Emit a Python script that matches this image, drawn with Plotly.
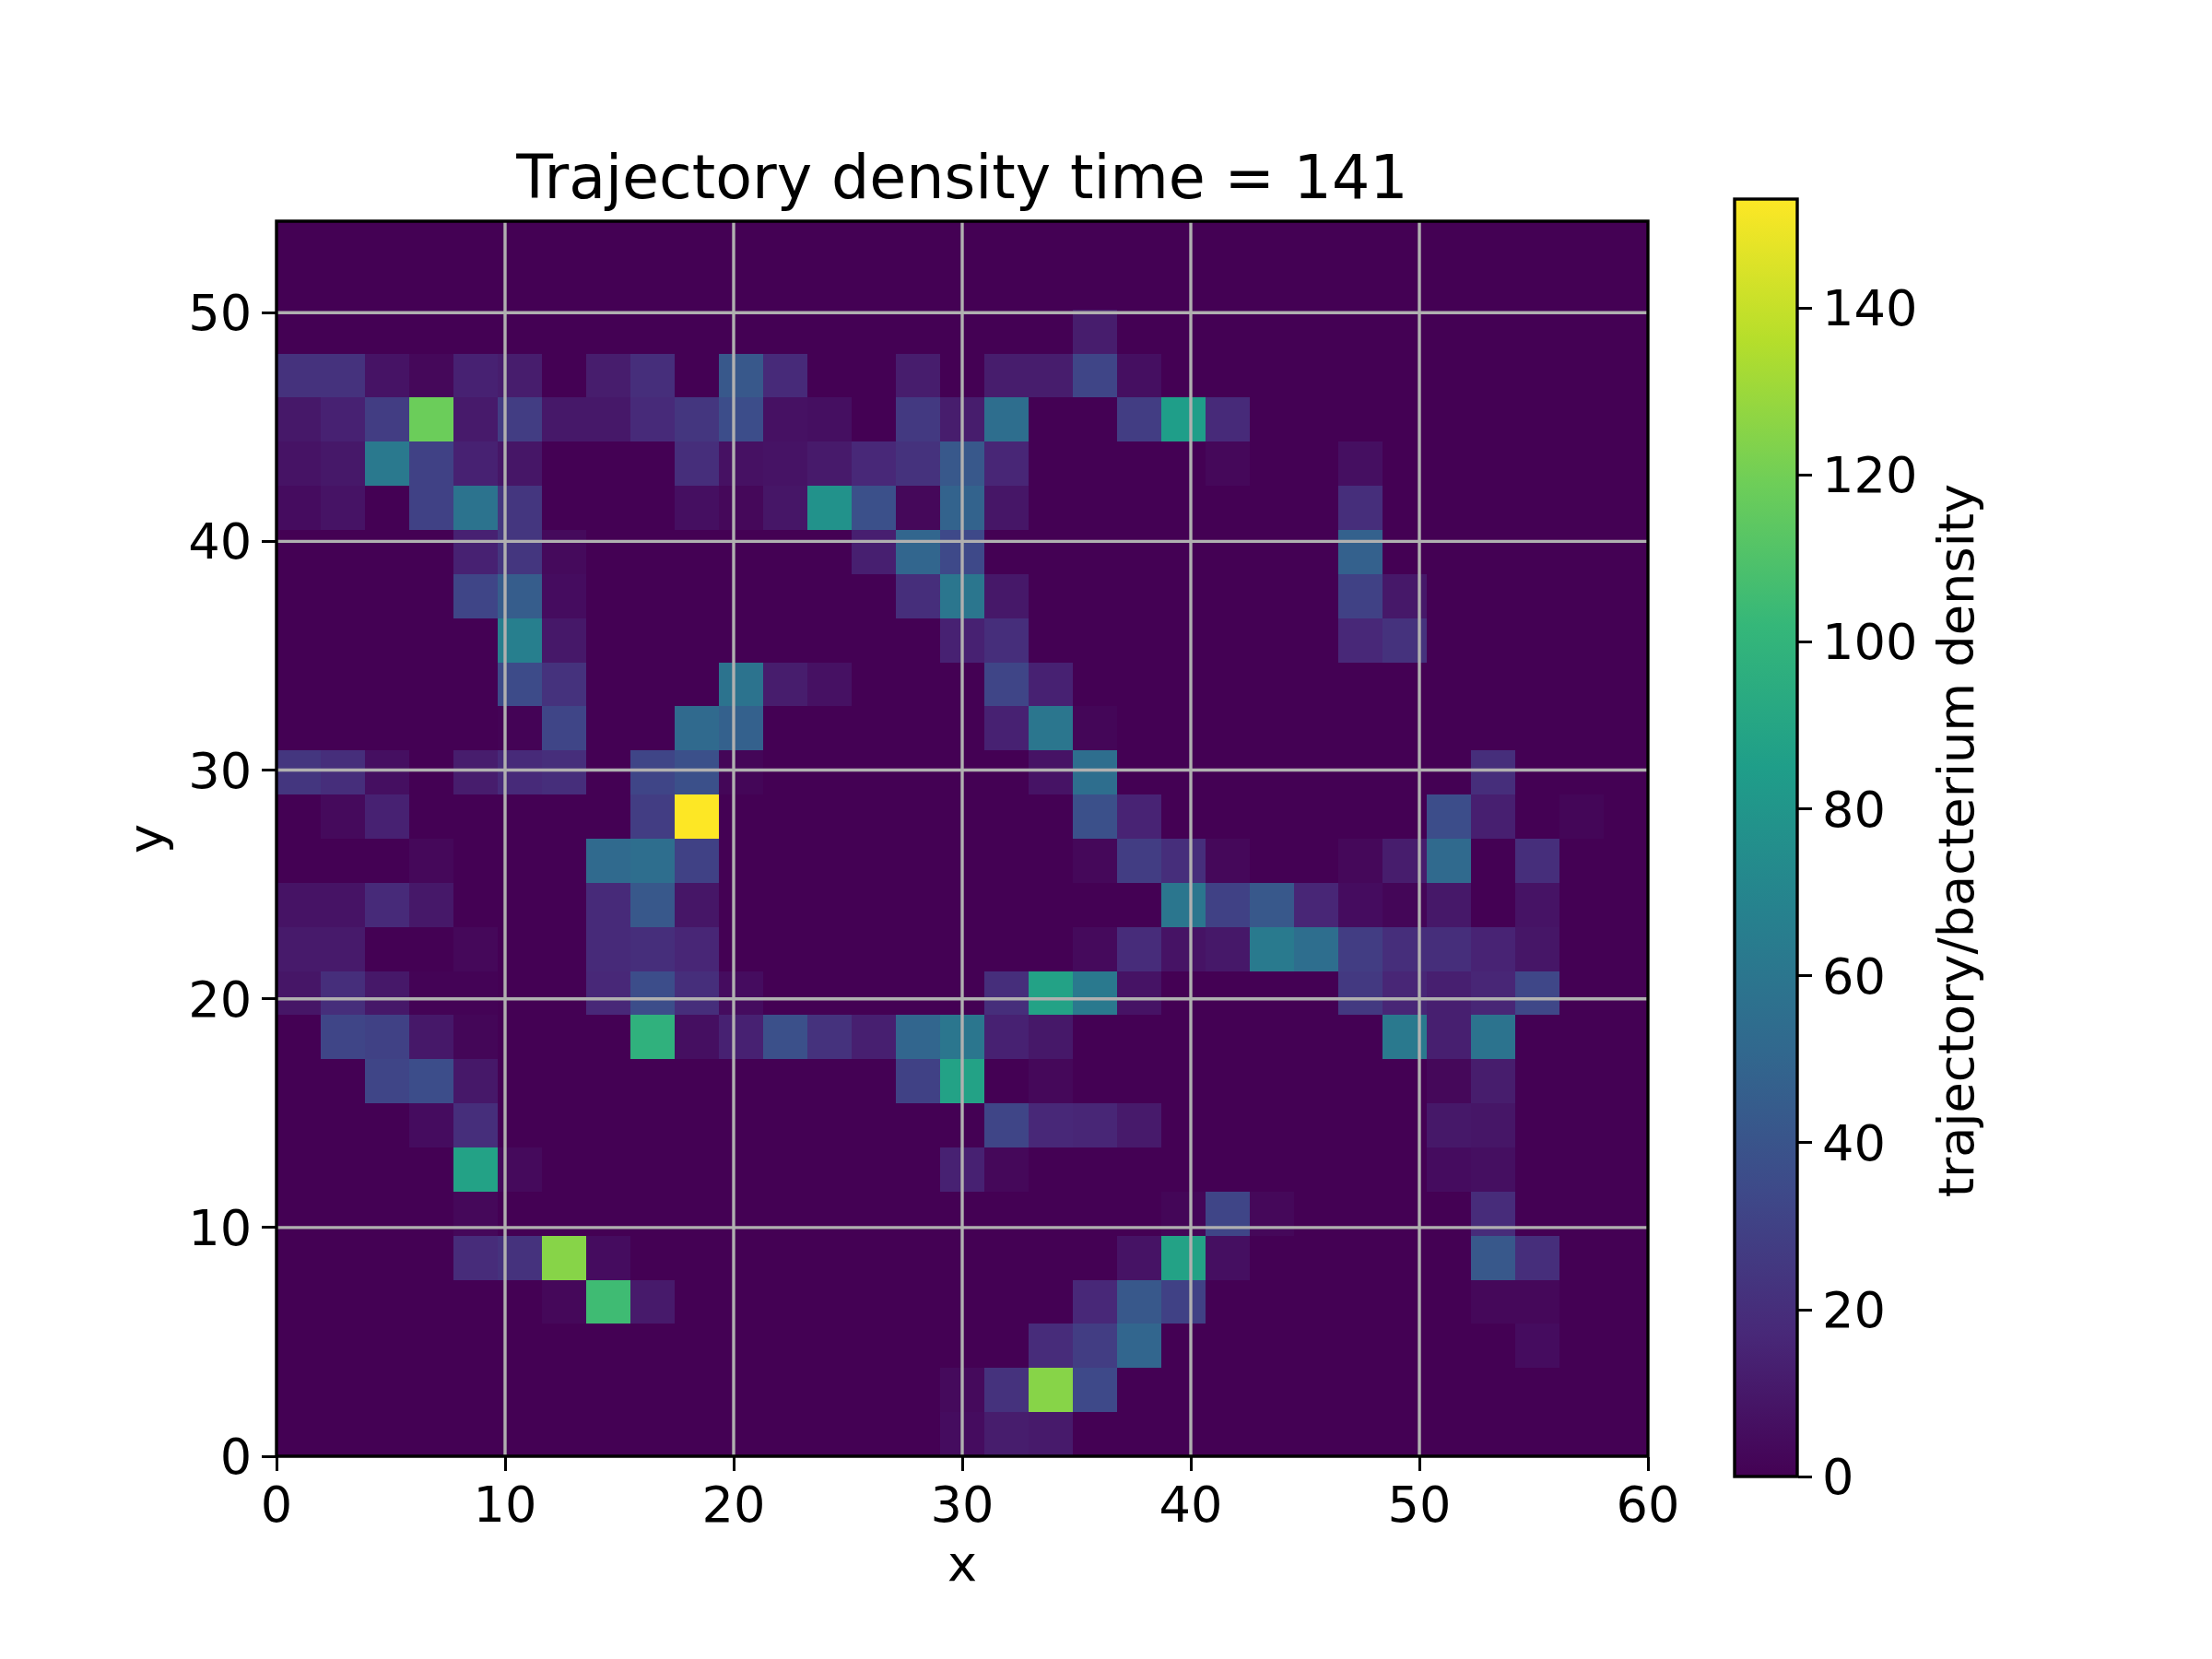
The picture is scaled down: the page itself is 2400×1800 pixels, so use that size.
import plotly.graph_objects as go

x_max = 60
y_max = 54
n_cols = 31
n_rows = 28
z_max = 153
x_ticks = [0, 10, 20, 30, 40, 50, 60]
y_ticks = [0, 10, 20, 30, 40, 50]
cbar_ticks = [0, 20, 40, 60, 80, 100, 120, 140]

# density per cell, listed from the top row of the picture downwards
density_rows = [
    [0]*31,
    [0]*31,
    [0,0,0,0,0,0,0,0,0,0,0,0,0,0,0,0,0,0,12,0,0,0,0,0,0,0,0,0,0,0,0],
    [22,22,8,3,14,12,0,12,20,0,42,18,0,0,12,0,12,12,32,6,0,0,0,0,0,0,0,0,0,0,0],
    [10,14,28,118,11,28,10,10,18,24,36,7,6,0,26,12,55,0,0,28,85,18,0,0,0,0,0,0,0,0,0],
    [8,10,62,30,14,9,0,0,0,20,7,8,11,17,22,42,16,0,0,0,0,3,0,0,6,0,0,0,0,0,0],
    [5,8,0,30,58,24,0,0,0,6,3,9,78,38,3,48,9,0,0,0,0,0,0,0,20,0,0,0,0,0,0],
    [0,0,0,0,14,24,4,0,0,0,0,0,0,13,50,34,0,0,0,0,0,0,0,0,47,0,0,0,0,0,0],
    [0,0,0,0,32,45,5,0,0,0,0,0,0,0,20,60,10,0,0,0,0,0,0,0,30,10,0,0,0,0,0],
    [0,0,0,0,0,66,10,0,0,0,0,0,0,0,0,14,20,0,0,0,0,0,0,0,17,22,0,0,0,0,0],
    [0,0,0,0,0,35,22,0,0,0,58,12,7,0,0,0,32,14,0,0,0,0,0,0,0,0,0,0,0,0,0],
    [0,0,0,0,0,1,32,0,0,52,47,0,0,0,0,0,14,60,2,0,0,0,0,0,0,0,0,0,0,0,0],
    [24,20,6,0,12,18,20,0,32,38,2,0,0,0,0,0,0,8,55,0,0,0,0,0,0,0,0,20,0,0,0],
    [0,4,14,0,0,0,0,0,28,153,0,0,0,0,0,0,0,0,38,15,0,0,0,0,0,0,36,13,0,2,0],
    [0,0,0,3,0,0,0,52,55,30,0,0,0,0,0,0,0,0,3,28,20,3,0,0,3,12,52,0,20,0,0],
    [8,8,18,10,0,0,0,18,42,9,0,0,0,0,0,0,0,0,0,0,60,30,42,16,5,2,10,0,8,0,0],
    [11,11,0,0,3,0,0,18,20,16,0,0,0,0,0,0,0,0,4,19,8,10,63,55,28,20,20,15,9,0,0],
    [9,20,10,1,1,0,0,17,36,20,5,0,0,0,0,0,20,88,62,8,0,0,0,0,26,16,13,16,33,0,0],
    [0,32,30,10,2,0,0,0,98,6,14,38,22,13,50,60,14,10,0,0,0,0,0,0,0,62,13,58,0,0,0],
    [0,0,32,36,10,0,0,0,0,0,0,0,0,0,30,88,0,3,0,0,0,0,0,0,0,0,3,12,0,0,0],
    [0,0,0,5,20,0,0,0,0,0,0,0,0,0,0,0,32,17,16,11,0,0,0,0,0,0,10,9,0,0,0],
    [0,0,0,0,88,4,0,0,0,0,0,0,0,0,0,14,3,0,0,0,0,0,0,0,0,0,5,6,0,0,0],
    [0,0,0,0,3,0,0,0,0,0,0,0,0,0,0,0,0,0,0,0,2,32,3,0,0,0,0,19,0,0,0],
    [0,0,0,0,19,22,125,5,0,0,0,0,0,0,0,0,0,0,0,8,88,6,0,0,0,0,0,42,20,0,0],
    [0,0,0,0,0,0,3,105,11,0,0,0,0,0,0,0,0,0,17,42,30,0,0,0,0,0,0,3,3,0,0],
    [0,0,0,0,0,0,0,0,0,0,0,0,0,0,0,0,0,19,28,50,0,0,0,0,0,0,0,0,5,0,0],
    [0,0,0,0,0,0,0,0,0,0,0,0,0,0,0,4,22,125,34,0,0,0,0,0,0,0,0,0,0,0,0],
    [0,0,0,0,0,0,0,0,0,0,0,0,0,0,0,5,12,11,0,0,0,0,0,0,0,0,0,0,0,0,0],
]

FONT = "DejaVu Sans"
GRID = "#b0b0b0"
LINE = 3.4
TEXT = 54.2
TITLE = 65

fig = go.Figure(go.Heatmap(
    z=density_rows[::-1],
    x0=x_max / n_cols / 2, dx=x_max / n_cols,
    y0=y_max / n_rows / 2, dy=y_max / n_rows,
    colorscale="Viridis", zmin=0, zmax=z_max, zsmooth=False,
    colorbar=dict(
        x=(1882 - 300) / 1488, xanchor="left", xpad=0,
        y=(1580 - 909) / 1340.5, yanchor="middle", ypad=0,
        lenmode="pixels", len=1386, thicknessmode="pixels", thickness=68,
        outlinecolor="black", outlinewidth=LINE,
        tickmode="array", tickvals=cbar_ticks,
        ticks="outside", ticklen=15, tickwidth=LINE, tickcolor="black",
        tickfont=dict(family=FONT, size=TEXT, color="black"),
    ),
))

shapes = []
for v in x_ticks[1:-1]:
    shapes.append(dict(type="line", xref="x", yref="y", x0=v, x1=v, y0=0, y1=y_max,
                       line=dict(color=GRID, width=LINE), layer="above"))
for v in y_ticks[1:]:
    shapes.append(dict(type="line", xref="x", yref="y", x0=0, x1=x_max, y0=v, y1=v,
                       line=dict(color=GRID, width=LINE), layer="above"))
shapes.append(dict(type="rect", xref="paper", yref="paper", x0=0, x1=1, y0=0, y1=1,
                   line=dict(color="black", width=LINE), fillcolor="rgba(0,0,0,0)", layer="above"))

axis = dict(
    showgrid=False, zeroline=False, showline=False,
    ticks="outside", ticklen=15, tickwidth=LINE, tickcolor="black",
    tickfont=dict(family=FONT, size=TEXT, color="black"), automargin=False,
)
fig.update_layout(
    width=2400, height=1800,
    margin=dict(l=300, r=612, t=239.5, b=220, pad=0),
    paper_bgcolor="white", plot_bgcolor="white",
    font=dict(family=FONT, color="black"),
    title=dict(text="Trajectory density time = 141", font=dict(family=FONT, size=TITLE, color="black"),
               x=1044 / 2400, xanchor="center", y=1 - 192 / 1800, yanchor="middle"),
    xaxis=dict(range=[0, x_max], tickmode="array", tickvals=x_ticks, ticklabelstandoff=-10,
               title=dict(text="x", font=dict(family=FONT, size=TEXT, color="black"), standoff=14), **axis),
    yaxis=dict(range=[0, y_max], tickmode="array", tickvals=y_ticks,
               title=dict(text="y", font=dict(family=FONT, size=TEXT, color="black"), standoff=9), **axis),
    shapes=shapes,
    annotations=[dict(text="trajectory/bacterium density", textangle=-90, showarrow=False,
                      xref="paper", yref="paper", x=(2122 - 300) / 1488, y=(1580 - 912) / 1340.5,
                      xanchor="center", yanchor="middle",
                      font=dict(family=FONT, size=TEXT, color="black"))],
)
fig.write_html("out.html", post_script="document.body.style.margin='0';",
               config=dict(displayModeBar=False))
